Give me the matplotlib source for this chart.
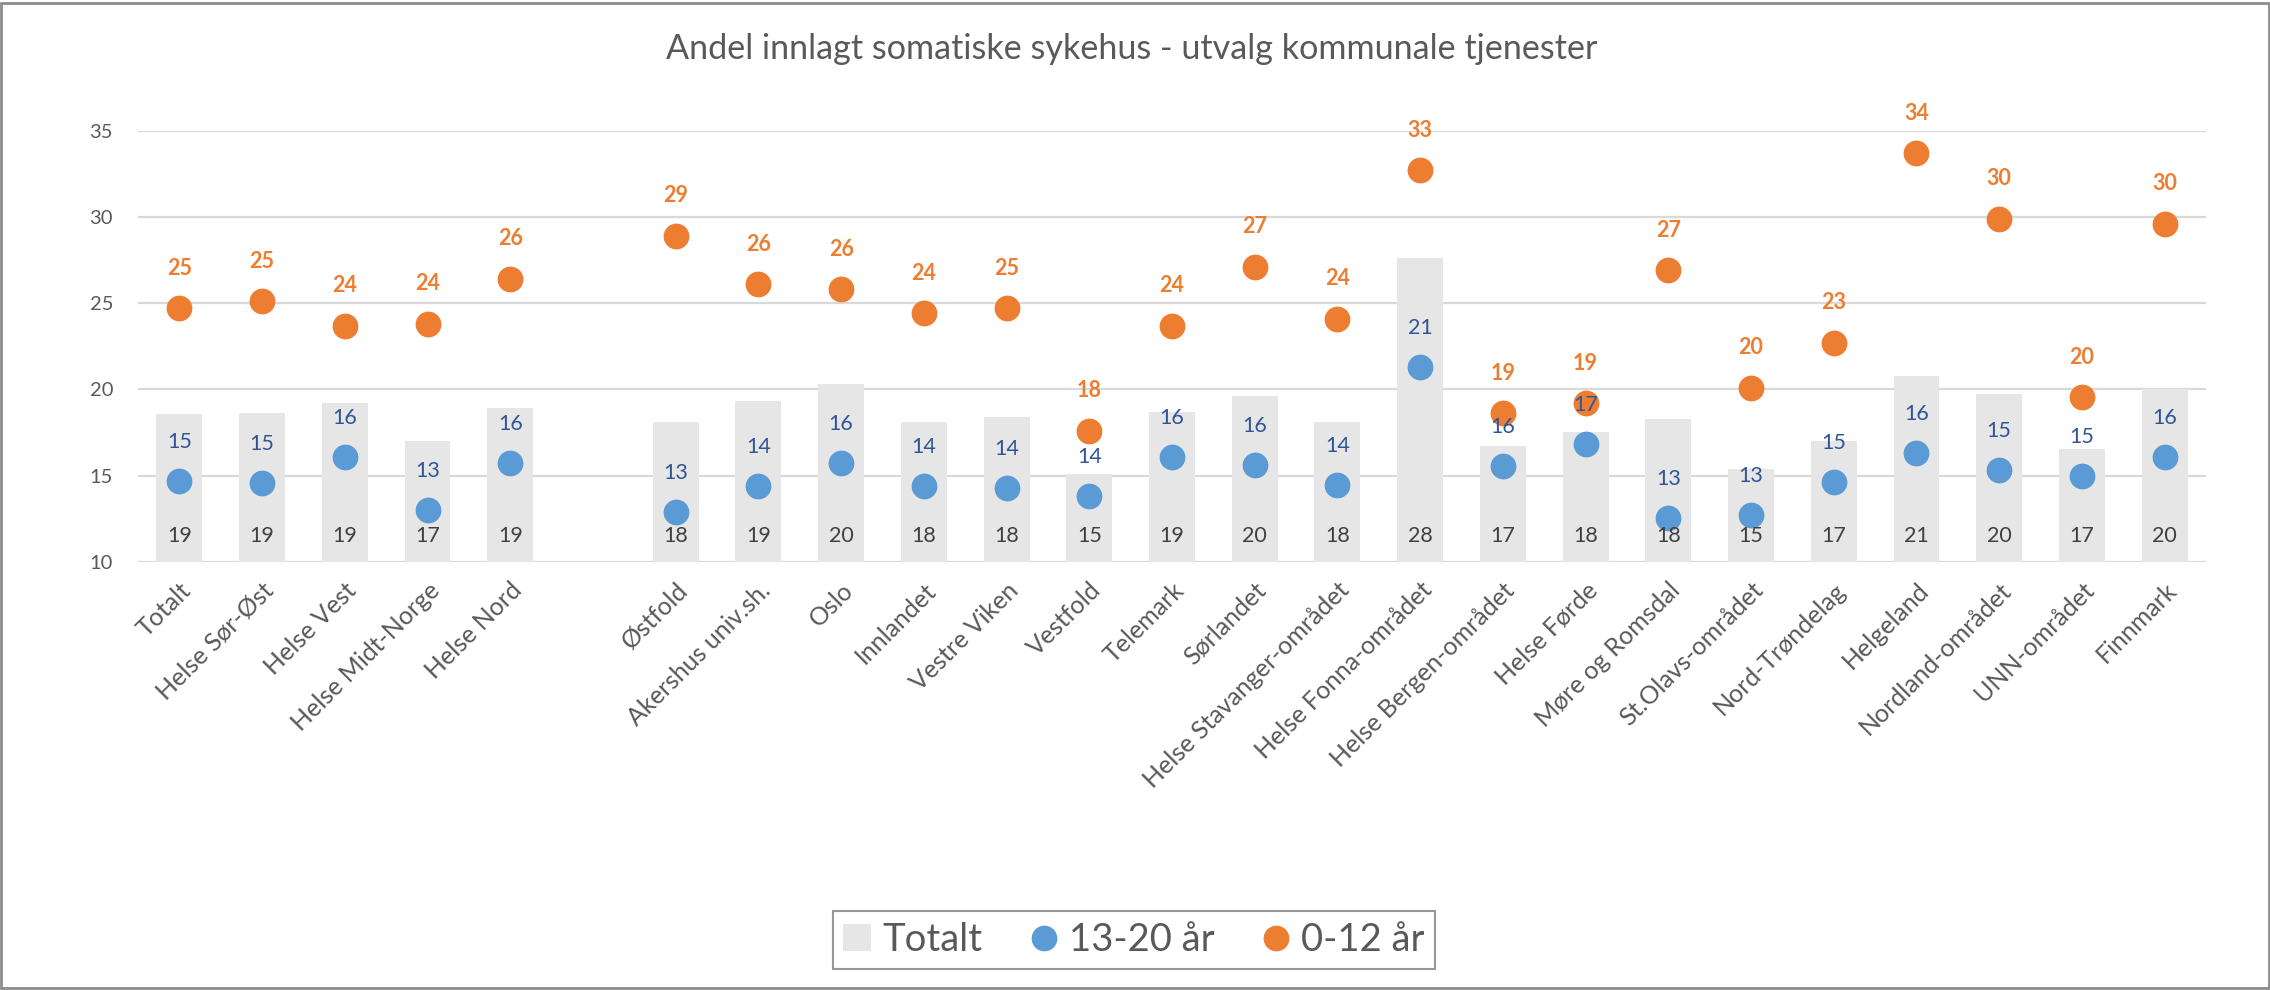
import numpy as np
import matplotlib
matplotlib.use("Agg")
import matplotlib.pyplot as plt
from matplotlib.lines import Line2D
from matplotlib.patches import Patch, Rectangle

plt.rcParams['font.family'] = ['Lato', 'DejaVu Sans']

title = "Andel innlagt somatiske sykehus - utvalg kommunale tjenester"
categories = ["Totalt", "Helse Sør-Øst", "Helse Vest", "Helse Midt-Norge", "Helse Nord", "",
              "Østfold", "Akershus univ.sh.", "Oslo", "Innlandet", "Vestre Viken", "Vestfold",
              "Telemark", "Sørlandet", "Helse Stavanger-området", "Helse Fonna-området",
              "Helse Bergen-området", "Helse Førde", "Møre og Romsdal", "St.Olavs-området",
              "Nord-Trøndelag", "Helgeland", "Nordland-området", "UNN-området", "Finnmark"]
totalt = [18.55, 18.6, 19.2, 17.0, 18.9, np.nan,
          18.1, 19.3, 20.3, 18.1, 18.4, 15.1, 18.7, 19.6, 18.1, 27.6,
          16.7, 17.55, 18.3, 15.4, 17.0, 20.8, 19.7, 16.55, 20.0]
age_13_20 = [14.7, 14.55, 16.1, 13.0, 15.7, np.nan,
             12.9, 14.4, 15.7, 14.4, 14.3, 13.8, 16.1, 15.6, 14.45, 21.3,
             15.55, 16.8, 12.55, 12.7, 14.6, 16.3, 15.3, 15.0, 16.1]
age_0_12 = [24.7, 25.1, 23.7, 23.8, 26.4, np.nan,
            28.9, 26.1, 25.8, 24.4, 24.7, 17.6, 23.7, 27.1, 24.1, 32.7,
            18.6, 19.2, 26.9, 20.1, 22.7, 33.7, 29.9, 19.55, 29.6]
series_names = ["Totalt", "13-20 år", "0-12 år"]
yticks = [10, 15, 20, 25, 30, 35]

C_BAR = "#E7E6E6"
C_BLUE = "#5B9BD5"
C_ORANGE = "#ED7D31"
C_TEXT = "#595959"
C_BLUE_TXT = "#2F5597"
C_BAR_TXT = "#404040"

fig = plt.figure(figsize=(22.7, 9.9), dpi=100)
ax = fig.add_axes([0.0608, 0.4326, 0.9110, 0.4354])

x = np.arange(len(categories))
tot = np.array(totalt, dtype=float)
b = np.array(age_13_20, dtype=float)
o = np.array(age_0_12, dtype=float)

ax.bar(x, tot - 10, bottom=10, width=0.555, color=C_BAR, zorder=2)
ax.scatter(x, b, s=345, color=C_BLUE, zorder=3, linewidths=0)
ax.scatter(x, o, s=345, color=C_ORANGE, zorder=4, linewidths=0)

ax.set_xlim(-0.5, len(categories) - 0.5)
ax.set_ylim(10, 35)
ax.set_yticks(yticks)
ax.grid(axis='y', color='#D9D9D9', linewidth=1.6, zorder=0)
ax.set_axisbelow(True)
for s in ax.spines.values():
    s.set_visible(False)
ax.tick_params(axis='both', length=0, colors=C_TEXT)
ax.tick_params(axis='y', pad=18, labelsize=14.5)
ax.set_xticks(x)
ax.set_xticklabels(categories, rotation=45, ha='right', rotation_mode='anchor')
ax.tick_params(axis='x', pad=12, labelsize=18)

for xi, tv, bv, ov in zip(x, tot, b, o):
    if np.isnan(tv):
        continue
    ax.annotate(f"{tv:.0f}", (xi, 10), xytext=(0, 26), textcoords='offset pixels',
                ha='center', va='center', fontsize=15.5, color=C_BAR_TXT, zorder=6)
    ax.annotate(f"{bv:.0f}", (xi, bv), xytext=(0, 39), textcoords='offset pixels',
                ha='center', va='center', fontsize=15.5, color=C_BLUE_TXT, zorder=6)
    ax.annotate(f"{ov:.0f}", (xi, ov), xytext=(0, 40), textcoords='offset pixels',
                ha='center', va='center', fontsize=15.5, color=C_ORANGE,
                fontweight='bold', zorder=7, annotation_clip=False)

fig.text(0.4985, 1 - 49 / 990, title, ha='center', va='center', fontsize=24.6, color=C_TEXT)

handles = [Patch(facecolor=C_BAR, edgecolor='none'),
           Line2D([], [], marker='o', linestyle='none', markersize=18.5, color=C_BLUE, markeredgewidth=0),
           Line2D([], [], marker='o', linestyle='none', markersize=18.5, color=C_ORANGE, markeredgewidth=0)]
leg = fig.legend(handles, series_names, loc='center', bbox_to_anchor=(0.4996, 1 - 940 / 990),
                 ncol=3, fontsize=27.5, frameon=True, fancybox=False, handlelength=0.72,
                 handleheight=0.72, handletextpad=0.3, columnspacing=1.25, borderpad=0.28,
                 borderaxespad=0, labelcolor=C_TEXT)
leg.get_frame().set_edgecolor('#7F7F7F')
leg.get_frame().set_linewidth(1.5)

fig.patches.append(Rectangle((0.0005, 0.002), 0.999, 0.995, transform=fig.transFigure,
                             fill=False, edgecolor='#8C8C8C', linewidth=2))

fig.savefig("out.png", dpi=100)
